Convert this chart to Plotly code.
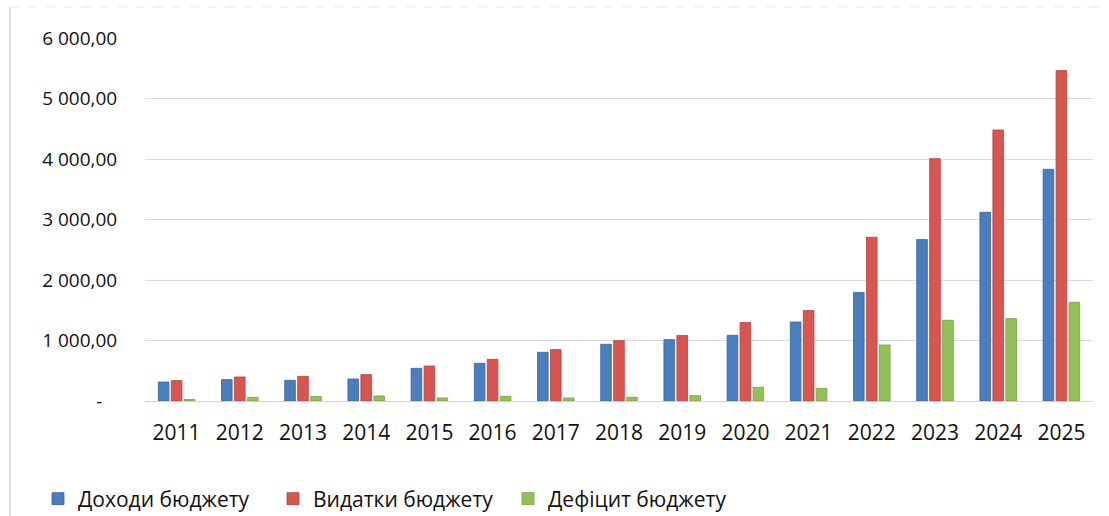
import plotly.graph_objects as go

years = [str(y) for y in range(2011, 2026)]
revenues = [314, 354, 342, 364, 540, 623, 805, 937, 1015, 1086, 1306, 1795, 2668, 3119, 3830]
expenditures = [337, 397, 408, 436, 578, 689, 850, 998, 1083, 1299, 1494, 2706, 4006, 4479, 5461]
deficit = [25, 61, 73, 83, 50, 78, 50, 61, 89, 226, 210, 926, 1334, 1362, 1631]

series_names = ["Доходи бюджету", "Видатки бюджету", "Дефіцит бюджету"]
colors = ["#4A7EBF", "#D95550", "#92C05A"]
edge_colors = ["#3A6499", "#B04440", "#779E45"]

tick_vals = [0, 1000, 2000, 3000, 4000, 5000, 6000]
tick_text = ["-\u00a0\u00a0\u00a0", "1 000,00", "2 000,00", "3 000,00", "4 000,00", "5 000,00", "6 000,00"]

FONT = "Open Sans"
TXT = "#111111"

L, R, T, B = 145, 16, 38, 115
W, H = 1109, 516
PW, PH = W - L - R, H - T - B


def px_x(px):
    return (px - L) / PW


def px_y(py):
    return (H - B - py) / PH


fig = go.Figure()
for name, vals, c, ec in zip(series_names, [revenues, expenditures, deficit], colors, edge_colors):
    fig.add_trace(go.Bar(
        x=years, y=vals, name=name,
        marker=dict(color=c, line=dict(color=ec, width=0.8)),
    ))

fig.update_layout(
    width=W, height=H,
    margin=dict(l=L, r=R, t=T, b=B, pad=0),
    paper_bgcolor="white", plot_bgcolor="white",
    barmode="group", bargap=0.384, bargroupgap=0.18,
    font=dict(family=FONT, size=20, color=TXT),
    showlegend=True,
    legend=dict(
        orientation="h", xref="container", yref="container",
        x=38 / W, xanchor="left", y=(H - 499) / H, yanchor="middle",
        font=dict(family=FONT, size=21, color=TXT),
        traceorder="normal", itemwidth=30,
        entrywidth=190, entrywidthmode="pixels",
        bgcolor="rgba(0,0,0,0)",
    ),
    xaxis=dict(
        type="category", showgrid=False, showline=False, zeroline=False,
        automargin=False,
        ticks="outside", ticklen=13, tickcolor="rgba(0,0,0,0)",
        tickfont=dict(family=FONT, size=21, color=TXT),
    ),
    yaxis=dict(
        range=[0, 6000], tickvals=tick_vals, ticktext=tick_text,
        automargin=False,
        showgrid=True, gridcolor="#D8D9E2", gridwidth=1.2,
        zeroline=True, zerolinecolor="#D0D1DA", zerolinewidth=1.2,
        showline=False,
        ticks="outside", ticklen=23, tickcolor="rgba(0,0,0,0)",
        tickfont=dict(family=FONT, size=19, color=TXT),
    ),
    shapes=[
        dict(type="line", xref="paper", yref="paper",
             x0=px_x(10), x1=px_x(10), y0=px_y(516), y1=px_y(7),
             line=dict(color="#D5D5D5", width=1.5)),
        dict(type="line", xref="paper", yref="paper",
             x0=px_x(10), x1=px_x(1100), y0=px_y(7), y1=px_y(7),
             line=dict(color="#E8E8E8", width=1.2, dash="dash")),
    ],
)

fig.write_html(
    "out.html",
    config={"displayModeBar": False},
    post_script="document.body.style.margin='0';document.body.style.padding='0';",
)
